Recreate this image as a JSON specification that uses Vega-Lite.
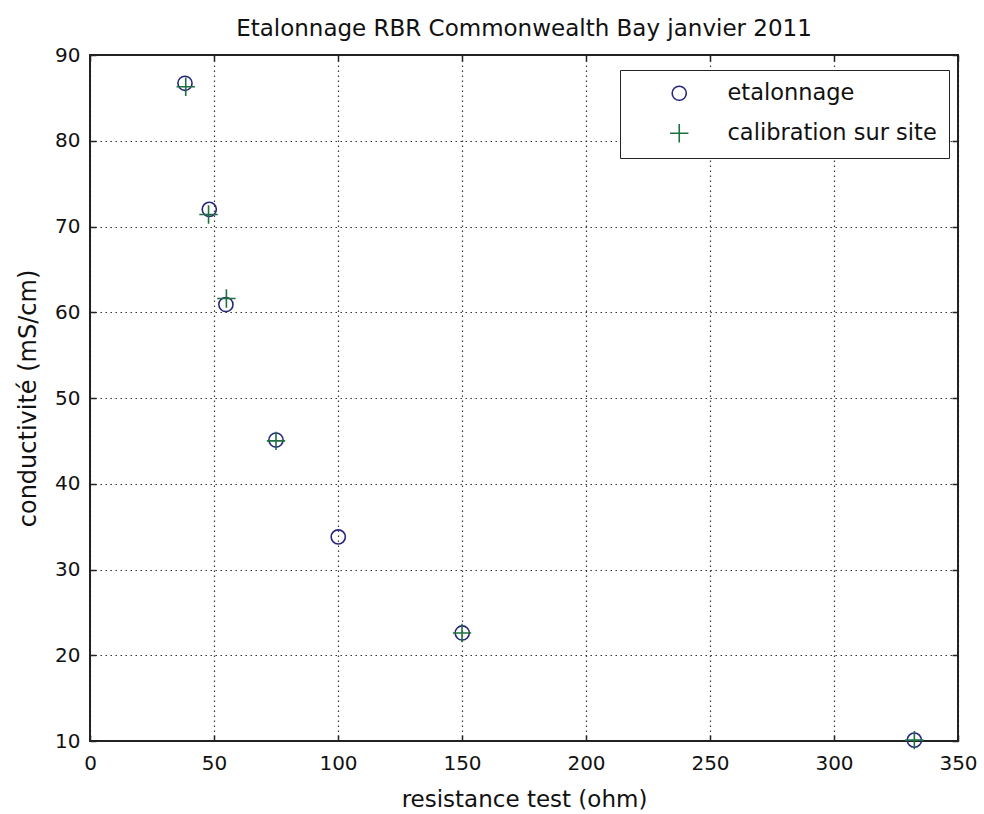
{
  "$schema": "https://vega.github.io/schema/vega-lite/v6.json",
  "width": 868,
  "height": 686,
  "autosize": {"type": "none"},
  "padding": {"left": 90, "top": 55, "right": 26, "bottom": 73},
  "background": "white",
  "title": {"text": "Etalonnage RBR Commonwealth Bay janvier 2011", "fontSize": 23, "font": "DejaVu Sans", "fontWeight": "normal", "color": "#111", "offset": 4},
  "config": {
    "view": {"stroke": "#222", "strokeWidth": 2},
    "font": "DejaVu Sans",
    "legend": {"strokeColor": "#222", "fillColor": "white", "padding": 12, "symbolOffset": 36, "labelOffset": 37, "labelFontSize": 22.5, "labelFont": "DejaVu Sans", "labelColor": "#111", "rowPadding": 15, "symbolSize": 200, "symbolStrokeWidth": 1.6, "labelLimit": 400},
    "axis": {
      "labelFont": "DejaVu Sans", "labelFontSize": 20, "labelColor": "#111",
      "titleFont": "DejaVu Sans", "titleFontSize": 23, "titleFontWeight": "normal", "titleColor": "#111",
      "domain": false, "tickSize": -6, "tickColor": "#222", "tickWidth": 1.5
    }
  },
  "data": {
    "values": [
      {"r": 38.3, "c": 86.7, "series": "etalonnage"},
      {"r": 48.1, "c": 72.0, "series": "etalonnage"},
      {"r": 54.8, "c": 60.9, "series": "etalonnage"},
      {"r": 75.0, "c": 45.1, "series": "etalonnage"},
      {"r": 100.1, "c": 33.8, "series": "etalonnage"},
      {"r": 150.1, "c": 22.6, "series": "etalonnage"},
      {"r": 332.4, "c": 10.1, "series": "etalonnage"},
      {"r": 38.6, "c": 86.3, "series": "calibration sur site"},
      {"r": 47.8, "c": 71.4, "series": "calibration sur site"},
      {"r": 55.0, "c": 61.6, "series": "calibration sur site"},
      {"r": 75.0, "c": 45.0, "series": "calibration sur site"},
      {"r": 150.0, "c": 22.6, "series": "calibration sur site"},
      {"r": 332.4, "c": 10.1, "series": "calibration sur site"}
    ]
  },
  "layer": [
    {
      "mark": {"type": "point", "opacity": 0},
      "encoding": {
        "x": {"field": "r", "type": "quantitative", "scale": {"domain": [0, 350], "nice": false, "zero": false},
              "axis": {"orient": "top", "title": null, "labels": false, "grid": false, "values": [0, 50, 100, 150, 200, 250, 300, 350]}},
        "y": {"field": "c", "type": "quantitative", "scale": {"domain": [10, 90], "nice": false, "zero": false},
              "axis": {"orient": "right", "title": null, "labels": false, "grid": false, "values": [10, 20, 30, 40, 50, 60, 70, 80, 90]}}
      }
    },
    {
      "mark": {"type": "point", "filled": false, "strokeWidth": 1.6, "size": 200, "opacity": 1},
      "encoding": {
        "x": {"field": "r", "type": "quantitative", "scale": {"domain": [0, 350], "nice": false, "zero": false},
              "axis": {"orient": "bottom", "title": "resistance test (ohm)", "values": [0, 50, 100, 150, 200, 250, 300, 350], "labelPadding": 18, "labelFlush": false, "titlePadding": 15,
                       "grid": true, "gridColor": "#222", "gridDash": [1.5, 3.5], "gridWidth": 1.2, "gridOpacity": 0.9}},
        "y": {"field": "c", "type": "quantitative", "scale": {"domain": [10, 90], "nice": false, "zero": false},
              "axis": {"orient": "left", "title": "conductivité (mS/cm)", "titleFontSize": 24, "values": [10, 20, 30, 40, 50, 60, 70, 80, 90], "labelPadding": 16, "titlePadding": 14,
                       "grid": true, "gridColor": "#222", "gridDash": [1.5, 3.5], "gridWidth": 1.2, "gridOpacity": 0.9}},
        "color": {"field": "series", "type": "nominal", "scale": {"domain": ["etalonnage", "calibration sur site"], "range": ["#262680", "#1e7040"]},
          "legend": {"title": null, "orient": "none", "legendX": 530, "legendY": 15}},
        "shape": {"field": "series", "type": "nominal", "scale": {"domain": ["etalonnage", "calibration sur site"], "range": ["circle", "M-1.3,0H1.3M0,-1.3V1.3"]},
          "legend": {"title": null, "orient": "none", "legendX": 530, "legendY": 15}}
      }
    }
  ],
  "resolve": {"axis": {"x": "independent", "y": "independent"}}
}
